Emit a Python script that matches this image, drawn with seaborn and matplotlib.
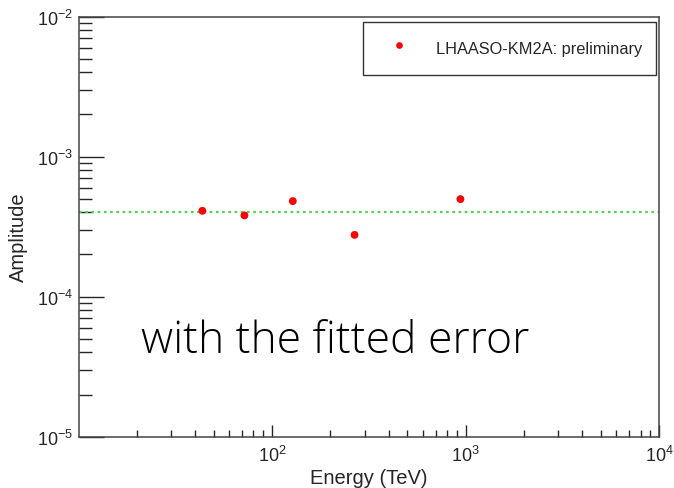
import numpy as np
import pandas as pd
import matplotlib
matplotlib.use("Agg")
import matplotlib.pyplot as plt
import seaborn as sns
from matplotlib import font_manager as fm
from matplotlib.ticker import LogLocator, FixedLocator, NullFormatter, FuncFormatter

energy = [43.6, 71.9, 127.8, 266.5, 939.0]
amplitude = [4.10e-4, 3.80e-4, 4.81e-4, 2.76e-4, 4.97e-4]
fit_level = 4.0e-4
series_label = "LHAASO-KM2A: preliminary"
x_label = "Energy (TeV)"
y_label = "Amplitude"
note = "with the fitted error"

sns.set_style("white")
plt.rcParams['font.family'] = ['Liberation Sans', 'DejaVu Sans']
plt.rcParams['mathtext.fontset'] = 'custom'
plt.rcParams['mathtext.rm'] = 'Liberation Sans'
plt.rcParams['mathtext.it'] = 'Liberation Sans'

# light, normal-width font for the note if installed
note_font = None
for cand in ['Open Sans', 'Noto Sans', 'Noto Sans CJK SC']:
    for f in fm.fontManager.ttflist:
        w = f.weight if isinstance(f.weight, int) else 400
        if (f.name == cand and 250 <= w <= 350 and f.stretch == 'normal'
                and f.style == 'normal' and 'ondensed' not in f.fname):
            note_font = f.fname
            break
    if note_font:
        break

df = pd.DataFrame({"energy": energy, "amplitude": amplitude, "label": series_label})

fig = plt.figure(figsize=(6.74, 4.89), dpi=100)
ax = fig.add_axes([79/674, 1-437.7/489, (659.3-79)/674, (437.7-17.5)/489])

ax.set_xscale("log")
ax.set_yscale("log")
ax.axhline(fit_level, color="#55d055", linestyle=(0, (1.2, 1.6)), linewidth=1.6, zorder=1)
sns.scatterplot(data=df, x="energy", y="amplitude", hue="label", palette=["red"],
                s=32, edgecolor="none", ax=ax, zorder=3)

ax.set_xlim(10.05, 1e4)
ax.set_ylim(1e-5, 1e-2)

ax.xaxis.set_major_locator(FixedLocator([1e2, 1e3, 1e4]))
ax.xaxis.set_minor_locator(LogLocator(base=10, subs=np.arange(2, 10), numticks=20))
ax.yaxis.set_major_locator(FixedLocator([1e-5, 1e-4, 1e-3, 1e-2]))
ax.yaxis.set_minor_locator(LogLocator(base=10, subs=np.arange(2, 10), numticks=20))
ax.xaxis.set_minor_formatter(NullFormatter())
ax.yaxis.set_minor_formatter(NullFormatter())
ax.xaxis.set_major_formatter(FuncFormatter(lambda v, p: r"$10^{%d}$" % round(np.log10(v))))
ax.yaxis.set_major_formatter(FuncFormatter(lambda v, p: r"$10^{%d}$" % round(np.log10(v))))

ax.tick_params(axis="y", which="major", direction="in", length=18, width=1, labelsize=13, pad=4,
               left=True, right=False)
ax.tick_params(axis="y", which="minor", direction="in", length=9, width=1, left=True, right=False)
ax.tick_params(axis="x", which="major", direction="in", length=9, width=1, labelsize=13, pad=6,
               bottom=True, top=False)
ax.tick_params(axis="x", which="minor", direction="in", length=5, width=1, bottom=True, top=False)

for s in ax.spines.values():
    s.set_color("#444444")
    s.set_linewidth(1.1)

ax.set_xlabel(x_label, fontsize=14.5, labelpad=2)
ax.set_ylabel(y_label, fontsize=14.5)
ax.yaxis.set_label_coords(-0.088, 0.478)

leg = ax.legend(loc="upper right", bbox_to_anchor=(656/674, 1-22.7/489), bbox_transform=fig.transFigure,
                fontsize=11.8, frameon=True, fancybox=False, shadow=False, borderpad=0.85,
                handlelength=2.7, handleheight=2.0, handletextpad=0.9, borderaxespad=0,
                markerscale=0.85)
leg.get_frame().set_edgecolor("black")
leg.get_frame().set_linewidth(1.0)

x0, yb, target_w = 141/674, 1-353/489, 389.0
if note_font:
    fp = fm.FontProperties(fname=note_font, size=31)
else:
    fp = fm.FontProperties(family=['Noto Sans CJK SC', 'DejaVu Sans'], size=31)
t = fig.text(x0, yb, note, fontproperties=fp, color="black", va='baseline', ha='left')
# scale the note so its width matches the reference
fig.canvas.draw()
w = t.get_window_extent().width
if w > 0:
    fp.set_size(31 * target_w / w)
    t.set_fontproperties(fp)

fig.savefig("out.png", dpi=100, facecolor="white")
